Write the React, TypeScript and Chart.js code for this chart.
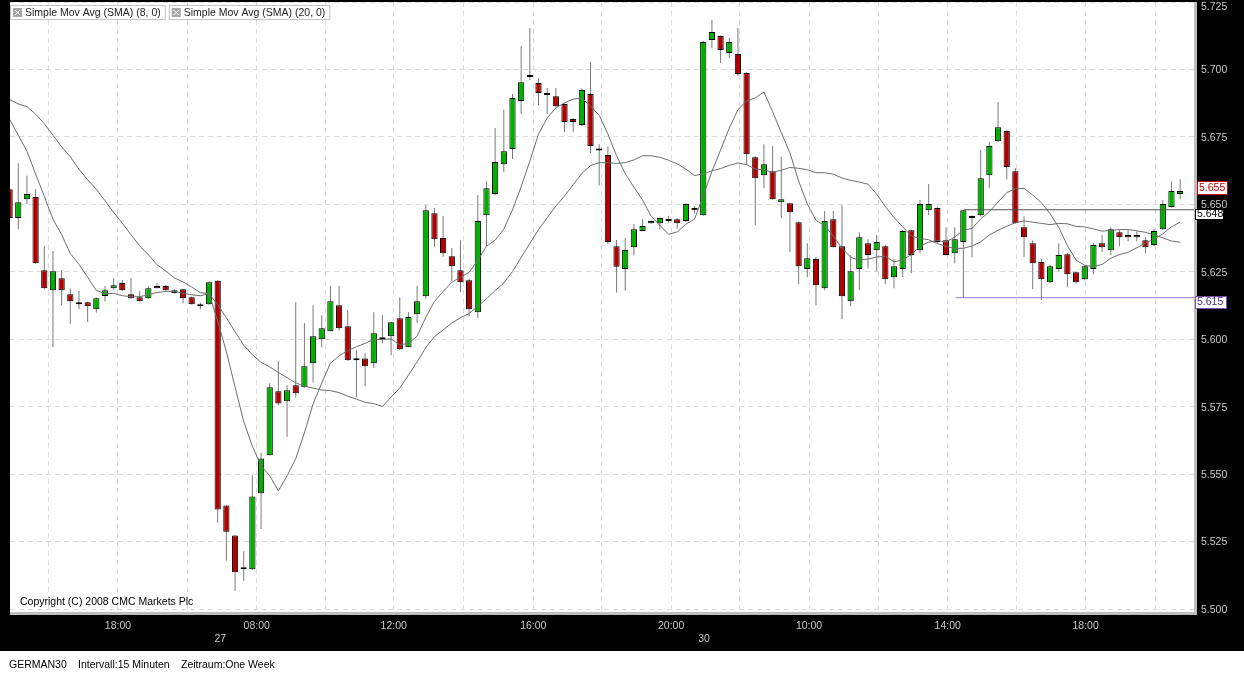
import React, { useEffect, useRef } from 'react';
import { Chart, registerables } from 'chart.js';

Chart.register(...registerables);

// ---- data (index = 15-minute bar number) ----
const opens = [5655.6, 5644.9, 5651.9, 5652.7, 5625.6, 5618.2, 5622.6, 5616.7, 5613.0, 5613.7,
  5611.1, 5616.0, 5618.9, 5620.8, 5616.7, 5615.6, 5615.2, 5619.7, 5619.7, 5617.1,
  5618.5, 5615.6, 5612.2, 5613.0, 5621.7, 5538.4, 5527.3, 5514.7, 5514.7, 5542.9,
  5557.0, 5580.7, 5577.0, 5582.9, 5582.2, 5591.1, 5600.0, 5603.0, 5612.6, 5604.8,
  5592.9, 5592.9, 5591.1, 5600.7, 5601.1, 5607.8, 5597.0, 5609.3, 5615.9, 5646.7,
  5637.5, 5630.8, 5625.6, 5621.9, 5610.0, 5646.0, 5653.8, 5664.9, 5670.5, 5688.3,
  5697.2, 5695.0, 5690.5, 5690.1, 5687.2, 5681.6, 5679.4, 5690.9, 5670.0, 5668.3,
  5634.5, 5626.0, 5634.1, 5640.1, 5643.0, 5643.0, 5643.8, 5644.5, 5643.8, 5648.6,
  5646.0, 5710.9, 5712.4, 5706.1, 5705.7, 5698.7, 5667.5, 5660.8, 5662.3, 5650.8,
  5650.4, 5643.4, 5626.0, 5629.7, 5618.9, 5644.5, 5634.5, 5614.1, 5626.0, 5635.6,
  5633.0, 5634.5, 5623.0, 5626.0, 5640.4, 5633.0, 5647.8, 5648.6, 5636.7, 5631.9,
  5636.0, 5645.6, 5646.0, 5660.8, 5673.4, 5677.2, 5662.3, 5641.5, 5635.6, 5628.6,
  5621.1, 5626.0, 5631.5, 5624.8, 5622.2, 5626.0, 5635.6, 5633.0, 5639.7, 5638.6,
  5638.6, 5636.7, 5634.9, 5640.8, 5649.0, 5653.8];

const highs = [5656.0, 5665.3, 5660.6, 5655.6, 5634.6, 5632.7, 5625.7, 5618.8, 5617.9, 5614.0,
  5615.5, 5619.8, 5622.6, 5622.0, 5622.7, 5617.8, 5619.7, 5620.8, 5620.0, 5618.5,
  5618.6, 5615.8, 5613.5, 5621.5, 5622.0, 5538.5, 5527.5, 5521.4, 5549.6, 5557.9,
  5583.7, 5591.9, 5582.9, 5613.7, 5606.0, 5612.6, 5608.9, 5619.8, 5619.8, 5610.8,
  5595.9, 5594.8, 5610.0, 5608.9, 5606.5, 5615.6, 5610.0, 5619.8, 5649.8, 5648.6,
  5645.7, 5633.8, 5636.7, 5622.5, 5653.5, 5658.6, 5678.3, 5685.1, 5690.9, 5708.7,
  5715.4, 5696.8, 5693.1, 5693.1, 5687.5, 5682.0, 5693.0, 5702.8, 5672.3, 5671.4,
  5636.8, 5637.5, 5642.7, 5644.5, 5644.3, 5645.2, 5645.7, 5644.8, 5650.3, 5649.4,
  5710.5, 5718.4, 5712.6, 5711.7, 5715.4, 5699.0, 5667.8, 5672.3, 5671.6, 5667.6,
  5650.6, 5643.6, 5635.6, 5630.5, 5647.5, 5647.5, 5649.7, 5631.2, 5639.7, 5637.1,
  5638.6, 5635.0, 5629.7, 5640.5, 5640.6, 5651.6, 5657.5, 5649.0, 5641.5, 5641.5,
  5648.0, 5646.0, 5670.1, 5673.1, 5687.9, 5677.5, 5663.4, 5645.6, 5636.7, 5629.7,
  5627.5, 5635.6, 5632.0, 5625.0, 5627.5, 5635.6, 5638.6, 5641.5, 5640.8, 5640.4,
  5640.0, 5637.8, 5641.0, 5651.6, 5658.6, 5659.3];

const lows = [5644.5, 5640.8, 5650.1, 5628.0, 5618.5, 5597.0, 5612.6, 5605.7, 5611.1, 5606.5,
  5609.9, 5614.0, 5618.3, 5618.0, 5615.0, 5614.0, 5615.0, 5618.8, 5618.0, 5617.0,
  5613.3, 5612.9, 5611.1, 5612.8, 5532.0, 5517.9, 5506.7, 5510.4, 5514.5, 5529.7,
  5557.0, 5575.4, 5563.9, 5578.5, 5582.0, 5584.0, 5597.0, 5603.0, 5603.2, 5592.0,
  5578.5, 5582.6, 5589.3, 5598.5, 5594.1, 5596.0, 5597.0, 5606.0, 5615.0, 5634.3,
  5630.6, 5621.5, 5617.4, 5608.6, 5607.9, 5634.3, 5653.5, 5661.9, 5666.8, 5683.5,
  5696.1, 5686.7, 5683.5, 5686.0, 5676.8, 5676.8, 5679.0, 5669.0, 5657.0, 5635.2,
  5617.3, 5618.0, 5631.0, 5640.0, 5642.8, 5640.8, 5643.0, 5641.0, 5643.5, 5646.5,
  5645.8, 5707.9, 5702.4, 5704.2, 5697.6, 5664.5, 5642.3, 5656.0, 5651.7, 5644.9,
  5632.3, 5620.4, 5623.0, 5612.6, 5618.2, 5634.0, 5607.4, 5612.2, 5618.2, 5626.3,
  5625.2, 5620.4, 5618.9, 5623.0, 5624.5, 5631.9, 5646.0, 5635.8, 5631.0, 5628.2,
  5615.2, 5630.4, 5645.5, 5656.0, 5673.0, 5659.3, 5642.8, 5630.4, 5618.5, 5614.5,
  5620.8, 5625.0, 5619.3, 5620.6, 5621.8, 5624.1, 5632.3, 5631.2, 5634.5, 5636.3,
  5636.3, 5631.9, 5634.5, 5640.5, 5648.8, 5651.9];

const closes = [5644.9, 5650.8, 5653.8, 5628.2, 5618.9, 5625.2, 5618.2, 5614.1, 5613.0, 5612.2,
  5615.2, 5618.2, 5620.0, 5618.2, 5615.2, 5614.1, 5618.9, 5618.9, 5618.2, 5618.2,
  5615.2, 5613.0, 5612.2, 5621.1, 5536.9, 5528.6, 5513.6, 5515.4, 5541.7, 5555.8,
  5582.2, 5576.2, 5581.1, 5580.0, 5590.0, 5601.1, 5604.1, 5614.1, 5604.1, 5592.2,
  5592.2, 5590.0, 5602.2, 5600.0, 5606.3, 5596.3, 5608.2, 5614.1, 5647.8, 5637.1,
  5631.9, 5627.1, 5621.1, 5611.1, 5643.8, 5656.0, 5665.7, 5669.7, 5689.4, 5695.3,
  5697.2, 5691.3, 5691.3, 5686.4, 5680.5, 5680.5, 5692.4, 5671.6, 5670.0, 5636.0,
  5626.9, 5633.1, 5640.8, 5642.0, 5643.8, 5644.9, 5643.8, 5643.0, 5650.1, 5647.8,
  5710.2, 5713.9, 5707.2, 5710.2, 5698.3, 5668.6, 5659.7, 5664.9, 5651.9, 5651.9,
  5647.1, 5627.1, 5630.0, 5620.0, 5643.8, 5634.1, 5615.9, 5625.2, 5637.8, 5631.2,
  5636.0, 5622.2, 5627.1, 5640.1, 5631.2, 5650.1, 5650.1, 5636.0, 5631.2, 5637.1,
  5647.8, 5644.9, 5659.7, 5671.6, 5678.6, 5663.8, 5643.0, 5637.8, 5628.2, 5622.2,
  5627.1, 5631.2, 5624.1, 5621.1, 5627.1, 5634.9, 5634.1, 5640.8, 5637.8, 5637.8,
  5637.8, 5634.1, 5640.1, 5650.1, 5654.9, 5654.9];

// closes of the bars before the visible window (only feed the moving averages)
const priorCloses = [5682.8, 5673.8, 5684.2, 5688.9, 5711.2, 5704.2, 5688.1, 5705.0, 5690.2, 5685.2,
  5704.2, 5706.0, 5698.2, 5701.2, 5696.1, 5684.9, 5692.9, 5664.2, 5670.2];

const smaPeriods = [8, 20];

// x grid (bar index positions) and their time labels
const gridPositions = [4.5, 12.5, 20.5, 28.5, 36.4, 44.3, 52.3, 60.4, 68.3, 76.3, 84.2, 92.2, 100.2, 108.2, 116.1, 124.1, 132.2];
const timeLabels = ['', '18:00', '', '08:00', '', '12:00', '', '16:00', '', '20:00', '', '10:00', '', '14:00', '', '18:00', ''];
const dateIndices = [24.3, 80.1];
const dateTexts = ['27', '30'];

const yTickValues = [5500, 5525, 5550, 5575, 5600, 5625, 5650, 5675, 5700, 5725];

// drawn horizontal lines
const hLineValues = [5648, 5615.4];
const hLineStarts = [110.1, 109.1];

const legendTexts = ['Simple Mov Avg (SMA) (8, 0)', 'Simple Mov Avg (SMA) (20, 0)'];

const X_MIN = 0.046;
const X_MAX = 136.6;
const Y_MIN = 5498.9;
const Y_MAX = 5725;

const RED = '#b00000';
const GREEN = '#00b000';
const FONT = '10.5px "Liberation Sans", Arial, sans-serif';

function sma(period: number): number[] {
  const all = priorCloses.concat(closes);
  const off = priorCloses.length;
  return closes.map((_, i) => {
    let s = 0;
    for (let k = i + off - period + 1; k <= i + off; k++) s += all[k];
    return s / period;
  });
}

const fmt = (v: number) => (v / 1000).toFixed(3);

const decorPlugin = {
  id: 'cmcDecor',
  beforeDraw(chart: any) {
    const { ctx, chartArea: a, width, height } = chart;
    ctx.save();
    ctx.fillStyle = '#000';
    ctx.fillRect(0, 0, width, height);
    ctx.fillStyle = '#fff';
    ctx.fillRect(a.left, a.top, a.right - a.left, a.bottom - a.top);
    ctx.fillStyle = '#bdbdbd';
    ctx.fillRect(a.right, a.top, 3, a.bottom - a.top + 3);
    ctx.fillRect(a.left, a.bottom, a.right - a.left + 3, 3);
    ctx.fillStyle = '#fff';
    ctx.fillRect(0, 651, width, height - 651);
    ctx.restore();
  },
  afterDraw(chart: any) {
    const { ctx } = chart;
    const xs = chart.scales.x;
    const ys = chart.scales.y;
    ctx.save();
    ctx.font = FONT;
    ctx.textBaseline = 'middle';

    // legend
    let lx = 10;
    legendTexts.forEach((t) => {
      const tw = ctx.measureText(t).width;
      const w = tw + 20;
      ctx.fillStyle = '#fff';
      ctx.fillRect(lx, 5, w, 15);
      ctx.strokeStyle = '#c4c4c4';
      ctx.lineWidth = 1;
      ctx.strokeRect(lx + 0.5, 5.5, w - 1, 14);
      ctx.fillStyle = '#a8a8a8';
      ctx.fillRect(lx + 3, 8, 9, 9);
      ctx.strokeStyle = '#fff';
      ctx.beginPath();
      ctx.moveTo(lx + 5, 10); ctx.lineTo(lx + 10, 15);
      ctx.moveTo(lx + 10, 10); ctx.lineTo(lx + 5, 15);
      ctx.stroke();
      ctx.fillStyle = '#222';
      ctx.textAlign = 'left';
      ctx.fillText(t, lx + 15, 13);
      lx += w + 3;
    });

    // copyright
    ctx.fillStyle = '#000';
    ctx.textAlign = 'left';
    ctx.fillText('Copyright (C) 2008 CMC Markets Plc', 20, 602);

    // y tick labels
    ctx.fillStyle = '#c8c8c8';
    ys.ticks.forEach((t: any) => {
      const y = Math.max(7, Math.min(611, ys.getPixelForValue(t.value) + 1));
      ctx.fillText(fmt(t.value), 1201, y);
    });

    // x time labels
    ctx.textAlign = 'center';
    xs.ticks.forEach((t: any, k: number) => {
      const lbl = timeLabels[k];
      if (lbl) ctx.fillText(lbl, xs.getPixelForValue(t.value), 626);
    });
    dateIndices.forEach((d, k) => {
      ctx.fillText(dateTexts[k], xs.getPixelForValue(d), 639);
    });

    // price boxes
    const box = (value: number, dy: number, x: number, w: number, h: number, border: string, color: string) => {
      const cy = Math.round(ys.getPixelForValue(value) + dy);
      const top = Math.round(cy - h / 2);
      ctx.fillStyle = '#fff';
      ctx.fillRect(x, top, w, h);
      ctx.strokeStyle = border;
      ctx.lineWidth = 1;
      ctx.strokeRect(x + 0.5, top + 0.5, w - 1, h - 1);
      ctx.fillStyle = color;
      ctx.textAlign = 'left';
      ctx.fillText(fmt(value), x + 2, cy + 0.5);
    };
    box(closes[closes.length - 1], -3.6, 1197, 31, 14, '#cc0000', '#cc0000');
    box(hLineValues[0], 4.5, 1195, 29, 11, '#000', '#000');
    box(hLineValues[1], 4, 1195, 32, 13, '#7a4fb0', '#4a2a80');

    // footer info
    ctx.fillStyle = '#000';
    ctx.textAlign = 'left';
    ctx.fillText('GERMAN30', 9, 665);
    ctx.fillText('Intervall:15 Minuten', 78, 665);
    ctx.fillText('Zeitraum:One Week', 181, 665);
    ctx.restore();
  },
};

export default function App() {
  const ref = useRef<HTMLCanvasElement | null>(null);

  useEffect(() => {
    if (!ref.current) return;
    const idx = closes.map((_, i) => i);
    const wickData = idx.map((i) => ({ x: i, y: [lows[i], highs[i]] }));
    const bodyData = idx.map((i) => ({ x: i, y: [opens[i], closes[i]] }));
    const bodyColors = idx.map((i) => (closes[i] > opens[i] ? GREEN : closes[i] < opens[i] ? RED : '#000'));
    const smaSets = smaPeriods.map((p) => sma(p).map((v, i) => ({ x: i, y: v })));

    const datasets: any[] = [
      {
        type: 'bar', data: wickData, backgroundColor: '#7a7a7a', borderWidth: 0,
        grouped: false, maxBarThickness: 1, inflateAmount: 0, order: 4,
      },
      {
        type: 'bar', data: bodyData, backgroundColor: bodyColors, borderColor: '#000', borderWidth: 1,
        borderSkipped: false, grouped: false, maxBarThickness: 7, minBarLength: 2, inflateAmount: 0, order: 3,
      },
      ...smaSets.map((d) => ({
        type: 'line', data: d, borderColor: '#6e6e6e', borderWidth: 1, pointRadius: 0, tension: 0, order: 1,
      })),
      {
        type: 'line', data: [{ x: hLineStarts[0], y: hLineValues[0] }, { x: X_MAX, y: hLineValues[0] }],
        borderColor: '#555', borderWidth: 1, pointRadius: 0, order: 0,
      },
      {
        type: 'line', data: [{ x: hLineStarts[1], y: hLineValues[1] }, { x: X_MAX, y: hLineValues[1] }],
        borderColor: '#a07ad0', borderWidth: 1, pointRadius: 0, order: 0,
      },
    ];

    const chart = new Chart(ref.current, {
      type: 'bar',
      data: { datasets },
      options: {
        responsive: false,
        animation: false,
        events: [],
        layout: { padding: { left: 10, top: 2, right: 0, bottom: 0 } },
        plugins: { legend: { display: false }, tooltip: { enabled: false } },
        scales: {
          x: {
            type: 'linear', min: X_MIN, max: X_MAX, offset: false,
            afterBuildTicks: (s: any) => { s.ticks = gridPositions.map((v) => ({ value: v })); },
            afterFit: (s: any) => { s.height = 675 - 612; },
            ticks: { display: false },
            grid: { color: '#dcdcdc', drawTicks: false, offset: false, lineWidth: 1 },
            border: { display: false, dash: [5, 4] },
          },
          y: {
            type: 'linear', position: 'right', min: Y_MIN, max: Y_MAX,
            afterBuildTicks: (s: any) => { s.ticks = yTickValues.map((v) => ({ value: v })); },
            afterFit: (s: any) => { s.width = 1244 - 1194; },
            ticks: { display: false },
            grid: { color: '#dcdcdc', drawTicks: false, lineWidth: 1 },
            border: { display: false, dash: [5, 4] },
          },
        },
      } as any,
      plugins: [decorPlugin],
    });
    return () => chart.destroy();
  }, []);

  return (
    <div style={{ position: 'fixed', left: 0, top: 0, width: 1244, height: 675, background: '#000' }}>
      <canvas ref={ref} width={1244} height={675} style={{ display: 'block', width: 1244, height: 675 }} />
    </div>
  );
}
